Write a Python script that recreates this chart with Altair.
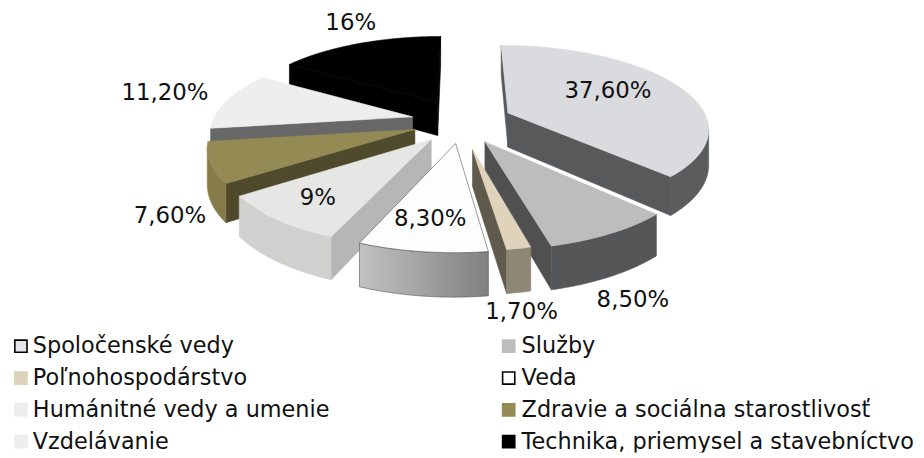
import math
import altair as alt

# ---- data ----
categories = ["Spoločenské vedy", "Služby", "Poľnohospodárstvo", "Veda",
              "Humánitné vedy a umenie", "Zdravie a sociálna starostlivosť",
              "Vzdelávanie", "Technika, priemysel a stavebníctvo"]
values = [37.6, 8.5, 1.7, 8.3, 9.0, 7.6, 11.2, 16.0]
labels = ["37,60%", "8,50%", "1,70%", "8,30%", "9%", "7,60%", "11,20%", "16%"]

# ---- 3-D pie styling ----
explode = [0.258, 0.284, 0.34, 0.28, 0.27, 0.25, 0.23, 0.23]
radius = [1, 1, 0.92, 1, 1, 1, 1, 1]
nudge = [(4, 0), (-1, 0), (2, 0), (6, -1), (9, 1), (5, 1), (0, 0), (2, -3)]
top_col = ["#dadbde", "#bdbdbd", "#dfd4bb", "#fdfdfd", "#e6e6e4", "#948a54", "#eeeeee", "#000000"]
rim_col = ["#5b5c5e", "#555657", "#8d8775",
           alt.Gradient(gradient="linear", x1=0, x2=1, y1=0, y2=0,
                        stops=[alt.GradientStop(color="#c2c2c2", offset=0), alt.GradientStop(color="#808080", offset=1)]),
           "#d0d0ce", "#857b48", "#8a8a8a", "#000000"]
cut_col = ["#58595b", "#505051", "#5f5a4b", "#888888", "#b6b6b6", "#4f4a2c", "#686868", "#000000"]
outline = [None, None, None, "#555555", None, None, None, None]
legend_fill = ["#e4e6ea", "#bdbdbd", "#ddd3ba", "#ffffff", "#ededed", "#948a54", "#eeeeee", "#000000"]
legend_stroke = ["#000000", "#bdbdbd", "#ddd3ba", "#000000", "#ededed", "#948a54", "#eeeeee", "#000000"]
paint_order = [7, 0, 6, 5, 4, 1, 3, 2]

CX, CY, RX, RY, PERSP, DEPTH = 460, 120, 201, 82, 0.17, 35
label_pos = [(612, 90), (637, 300), (525, 313), (433, 219), (320, 198), (171, 216), (166, 92), (353, 22)]
legend_rows = [347, 347, 379, 379, 411, 411, 443, 443]
legend_sym_x = [21, 512]
legend_txt_x = [33, 525]


def feature(points):
    ring = [list(pt) for pt in points] + [list(points[0])]
    return {"type": "Feature", "properties": {}, "geometry": {"type": "Polygon", "coordinates": [ring]}}


PROJ = alt.Projection(type="identity", scale=1, translate=[-8, -8])


def shape(points, fill, stroke=None, width=0.6):
    data = alt.InlineData(values={"type": "FeatureCollection", "features": [feature(points)]},
                          format=alt.DataFormat(property="features", type="json"))
    kw = {"fill": fill, "strokeWidth": width}
    if stroke:
        kw["stroke"] = stroke
    elif isinstance(fill, str):
        kw["stroke"] = fill
    return alt.Chart(data).mark_geoshape(**kw).project(**PROJ.to_dict())


layers = []
total = sum(values)
starts = [sum(values[:i]) / total * 360 for i in range(len(values))]
for i in paint_order:
    t0 = starts[i]
    t1 = t0 + values[i] / total * 360
    tm = math.radians((t0 + t1) / 2)
    ox, oy = explode[i] * math.sin(tm), explode[i] * math.cos(tm)
    n = max(2, int(t1 - t0) * 2)
    angs = [math.radians(t0 + (t1 - t0) * k / n) for k in range(n + 1)]
    rim = [(ox + radius[i] * math.sin(a), oy + radius[i] * math.cos(a)) for a in angs]
    apex = (ox, oy)

    def project(x, y, z=0.0, i=i):
        p = 1 / (1 + PERSP * y)
        return (CX + nudge[i][0] + RX * x * p, CY + nudge[i][1] - RY * y * p + z * DEPTH * p)

    top = [project(*apex)] + [project(*q) for q in rim]
    # front-facing walls only: walked clockwise, an edge faces the viewer if it heads left
    first, last = rim[0], rim[-1]
    if project(*first)[0] < project(*apex)[0]:
        layers.append(shape([project(*apex), project(*first), project(*first, 1), project(*apex, 1)], cut_col[i]))
    if project(*apex)[0] < project(*last)[0]:
        layers.append(shape([project(*last), project(*apex), project(*apex, 1), project(*last, 1)], cut_col[i]))
    vis = [q for q, r in zip(rim[1:], rim[:-1]) if project(*q)[0] < project(*r)[0]]
    prev = [r for q, r in zip(rim[1:], rim[:-1]) if project(*q)[0] < project(*r)[0]]
    if vis:
        seq = [prev[0]] + vis
        layers.append(shape([project(*q) for q in seq] + [project(*q, 1) for q in reversed(seq)],
                            rim_col[i], outline[i]))
    layers.append(shape(top, top_col[i], outline[i]))

label_table = [{"t": t, "lon": p[0], "lat": p[1]} for t, p in zip(labels, label_pos)]
layers.append(
    alt.Chart(alt.Data(values=label_table))
    .mark_text(font="DejaVu Sans", fontSize=23, color="#111111", align="center", baseline="middle")
    .encode(longitude="lon:Q", latitude="lat:Q", text="t:N")
    .project(**PROJ.to_dict())
)

legend_table = [
    {"name": c, "sx": legend_sym_x[k % 2], "tx": legend_txt_x[k % 2], "y": legend_rows[k],
     "fill": legend_fill[k], "stroke": legend_stroke[k]}
    for k, c in enumerate(categories)
]
layers.append(
    alt.Chart(alt.Data(values=legend_table))
    .mark_square(size=150, opacity=1, strokeWidth=1.6)
    .encode(longitude="sx:Q", latitude="y:Q",
            fill=alt.Fill("fill:N", scale=None), stroke=alt.Stroke("stroke:N", scale=None))
    .project(**PROJ.to_dict())
)
layers.append(
    alt.Chart(alt.Data(values=legend_table))
    .mark_text(font="DejaVu Sans", fontSize=22.5, color="#111111", align="left", baseline="middle")
    .encode(longitude="tx:Q", latitude="y:Q", text="name:N")
    .project(**PROJ.to_dict())
)

chart = (
    alt.layer(*layers)
    .properties(width=914, height=446, padding=0)
    .configure_view(stroke=None)
    .configure(background="#ffffff")
)
chart.save("out.html", embed_options={"renderer": "svg", "actions": False})
